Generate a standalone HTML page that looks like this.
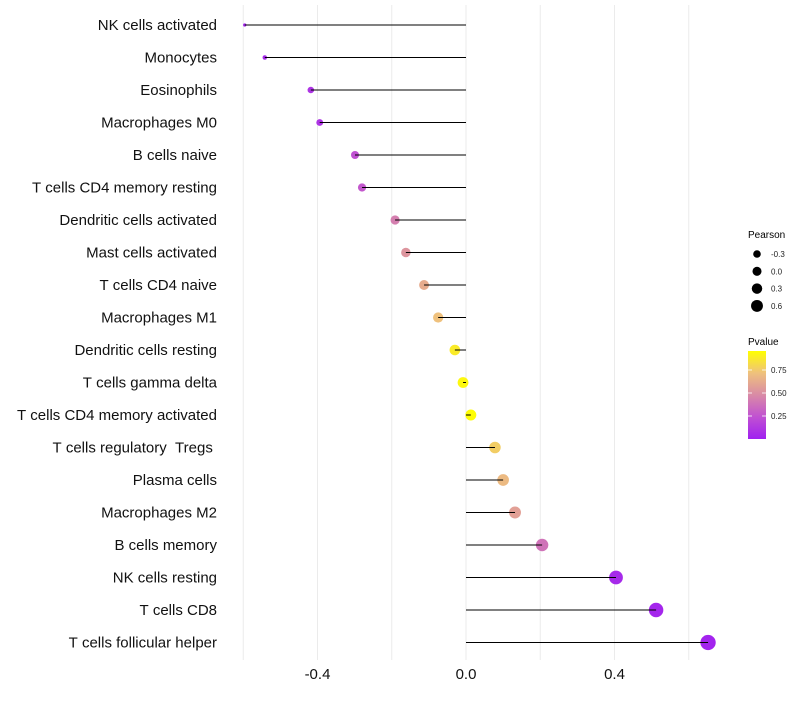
<!DOCTYPE html>
<html><head><meta charset="utf-8"><style>
body{margin:0;background:#fff;font-family:"Liberation Sans",sans-serif}
svg text{font-family:"Liberation Sans",sans-serif}
</style></head><body>
<svg id="chart" width="800" height="700" xmlns="http://www.w3.org/2000/svg">
<g id="grid"></g>
<g id="marks"></g>
<g id="ylabels"></g>
<g id="xlabels"></g>
<g>
<text x="748" y="238" font-size="10">Pearson</text>
<g id="sizeLegend"></g>
</g>
<g>
<text x="748" y="345" font-size="10">Pvalue</text>
<defs><linearGradient id="pg" x1="0" y1="1" x2="0" y2="0">
<stop offset="0" stop-color="#a020f0"/><stop offset="0.25" stop-color="#c051d2"/><stop offset="0.5" stop-color="#d98aa6"/><stop offset="0.75" stop-color="#efc17d"/><stop offset="1" stop-color="#ffff00"/></linearGradient></defs>
<rect x="748" y="351" width="18" height="88" fill="url(#pg)"/>
<g id="cbTicks"></g>
</g>
</svg>
<script>
const categories=["NK cells activated","Monocytes","Eosinophils","Macrophages M0","B cells naive","T cells CD4 memory resting","Dendritic cells activated","Mast cells activated","T cells CD4 naive","Macrophages M1","Dendritic cells resting","T cells gamma delta","T cells CD4 memory activated","T cells regulatory  Tregs ","Plasma cells","Macrophages M2","B cells memory","NK cells resting","T cells CD8","T cells follicular helper"];
const pearson=[-0.596,-0.542,-0.418,-0.394,-0.299,-0.280,-0.191,-0.162,-0.113,-0.075,-0.030,-0.008,0.013,0.078,0.100,0.132,0.205,0.404,0.512,0.652];
const pvalues=[0.02,0.05,0.1,0.1,0.25,0.28,0.45,0.55,0.65,0.75,0.92,0.97,0.99,0.8,0.72,0.6,0.4,0.05,0.03,0.02];
const xTicks=[-0.4,0.0,0.4];
const xTickLabels=["-0.4","0.0","0.4"];
const gridVals=[-0.6,-0.4,-0.2,0,0.2,0.4,0.6];
const sizeLegendVals=[-0.3,0.0,0.3,0.6];
const cbVals=[0.25,0.5,0.75];
const cbLabels=["0.25","0.50","0.75"];
const NS="http://www.w3.org/2000/svg";
const X=v=>466+v*371.25;
const Y=i=>25+i*32.5;
const R=v=>Math.sqrt(2.5+45*Math.max(0,v+0.6));
const LR=v=>3.8+(v+0.3)*2.4;
const CY=p=>439-p*92;
const stops=[[0,[160,32,240]],[0.25,[192,81,210]],[0.5,[217,138,166]],[0.75,[239,193,125]],[1,[255,255,0]]];
function col(p){for(let k=0;k<stops.length-1;k++){const a=stops[k],b=stops[k+1];if(p<=b[0]){const t=(p-a[0])/(b[0]-a[0]);return "rgb("+a[1].map((c,j)=>Math.round(c+(b[1][j]-c)*t)).join(",")+")";}}return "rgb(255,255,0)";}
function mk(t,a,parent){const e=document.createElementNS(NS,t);for(const k in a)e.setAttribute(k,a[k]);parent.appendChild(e);return e;}
const grid=document.getElementById('grid');
gridVals.forEach(v=>{const l=mk('line',{x1:X(v),x2:X(v),y1:5,y2:660,stroke:'#ebebeb','stroke-width':1},grid);

});
const marks=document.getElementById('marks');
categories.forEach((c,i)=>{
const d=mk('circle',{cx:X(pearson[i]),cy:Y(i),r:R(pearson[i]),fill:col(pvalues[i])},marks);


const s=mk('line',{x1:X(0),x2:X(pearson[i]),y1:Y(i),y2:Y(i),stroke:'#000','stroke-width':1},marks);


const t=mk('text',{x:217,y:Y(i)+5,'text-anchor':'end','font-size':15,fill:'#111'},document.getElementById('ylabels'));
t.textContent=c.replace(/ /g,'\u00a0');


});
xTicks.forEach((v,i)=>{const t=mk('text',{x:X(v),y:679,'text-anchor':'middle','font-size':15,fill:'#111'},document.getElementById('xlabels'));
t.textContent=xTickLabels[i];

});
const sl=document.getElementById('sizeLegend');
sizeLegendVals.forEach((v,i)=>{const y=254+i*17.3;
const c=mk('circle',{cx:757,cy:y,r:LR(v),fill:'#000'},sl);


const t=mk('text',{x:771,y:y+3,'font-size':8,fill:'#222'},sl);
t.textContent=v.toFixed(1);

});
const cb=document.getElementById('cbTicks');
cbVals.forEach((v,i)=>{
const l=mk('line',{x1:748,x2:752,y1:CY(v),y2:CY(v),stroke:'#fff','stroke-width':0.8},cb);


const l2=mk('line',{x1:762,x2:766,y1:CY(v),y2:CY(v),stroke:'#fff','stroke-width':0.8},cb);


const t=mk('text',{x:771,y:CY(v)+3,'font-size':8,fill:'#222'},cb);
t.textContent=cbLabels[i];

});
</script>
</body></html>
